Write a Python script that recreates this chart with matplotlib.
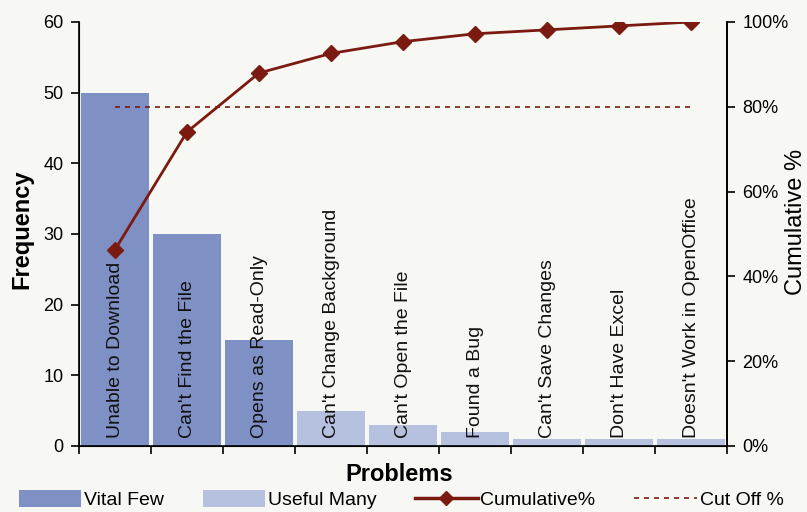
import matplotlib
matplotlib.use("Agg")
import matplotlib.pyplot as plt
from matplotlib.patches import Patch
from matplotlib.lines import Line2D
import numpy as np

categories = ["Unable to Download", "Can't Find the File", "Opens as Read-Only",
              "Can't Change Background", "Can't Open the File", "Found a Bug",
              "Can't Save Changes", "Don't Have Excel", "Doesn't Work in OpenOffice"]
frequency = [50, 30, 15, 5, 3, 2, 1, 1, 1]
vital_count = 3
cutoff_pct = 80

plt.rcParams['font.family'] = ['Liberation Sans', 'DejaVu Sans']

total = sum(frequency)
cum_pct = np.cumsum(frequency) / total * 100

bg = '#F7F8F3'
fig = plt.figure(figsize=(8.07, 5.12), dpi=100, facecolor=bg)
ax = fig.add_axes([79/807, 1-446/512, (727-79)/807, (446-22)/512])
ax.set_facecolor(bg)

x = np.arange(len(categories))
vital_color = '#7F90C4'
useful_color = '#B6C0DF'
colors = [vital_color if i < vital_count else useful_color for i in range(len(categories))]
ax.bar(x, frequency, width=0.95, color=colors, edgecolor='none', zorder=2)
ax.set_xlim(-0.5, len(categories) - 0.5)
ax.set_ylim(0, 60)
ax.set_yticks(range(0, 61, 10))
ax.set_xticks(np.arange(-0.5, len(categories), 1))
ax.set_xticklabels([])
ax.tick_params(axis='y', labelsize=13, length=6, direction='out', width=1.2, pad=5)
ax.tick_params(axis='x', length=6, direction='out', width=1.2)
ax.spines['top'].set_visible(False)
for s in ['left', 'bottom', 'right']:
    ax.spines[s].set_linewidth(1.2)

for i, c in enumerate(categories):
    ax.text(i, 1.2, c, rotation=90, ha='center', va='bottom', fontsize=14,
            color='#111111', zorder=5)

ax.set_ylabel('Frequency', fontsize=17, fontweight='bold')
ax.yaxis.set_label_coords(-0.071, 0.512)
ax.set_xlabel('Problems', fontsize=17, fontweight='bold')
ax.xaxis.set_label_coords(0.494, -0.040)

ax2 = ax.twinx()
ax2.set_ylim(0, 100)
ax2.set_yticks(range(0, 101, 20))
ax2.set_yticklabels([f'{v}%' for v in range(0, 101, 20)])
ax2.tick_params(axis='y', labelsize=13, length=6, direction='out', width=1.2, pad=5)
ax2.spines['top'].set_visible(False)
ax2.spines['right'].set_linewidth(1.2)
ax2.set_ylabel('Cumulative %', fontsize=17)
ax2.yaxis.set_label_coords(1.0895, 0.528)

red = '#7A1A10'
ax2.plot(x, cum_pct, color=red, lw=2, marker='D', markersize=8, zorder=6)
ax2.plot([x[0], x[-1]], [cutoff_pct, cutoff_pct], color=red, lw=1.2,
         linestyle=(0, (3, 3)), zorder=4)

handles = [Patch(facecolor=vital_color, edgecolor='none'),
           Patch(facecolor=useful_color, edgecolor='none'),
           Line2D([], [], color=red, lw=2.5, marker='D', markersize=7),
           Line2D([], [], color=red, lw=1.2, linestyle=(0, (3, 3)))]
labels = ['Vital Few', 'Useful Many', 'Cumulative%', 'Cut Off %']
fig.legend(handles, labels, loc='center', ncol=4, frameon=False,
           bbox_to_anchor=(0.497, 0.024), fontsize=14, handlelength=3.2,
           handleheight=1.0, columnspacing=2.0, handletextpad=0.15,
           borderpad=0.1)

fig.savefig('out.png', dpi=100, facecolor=bg)
